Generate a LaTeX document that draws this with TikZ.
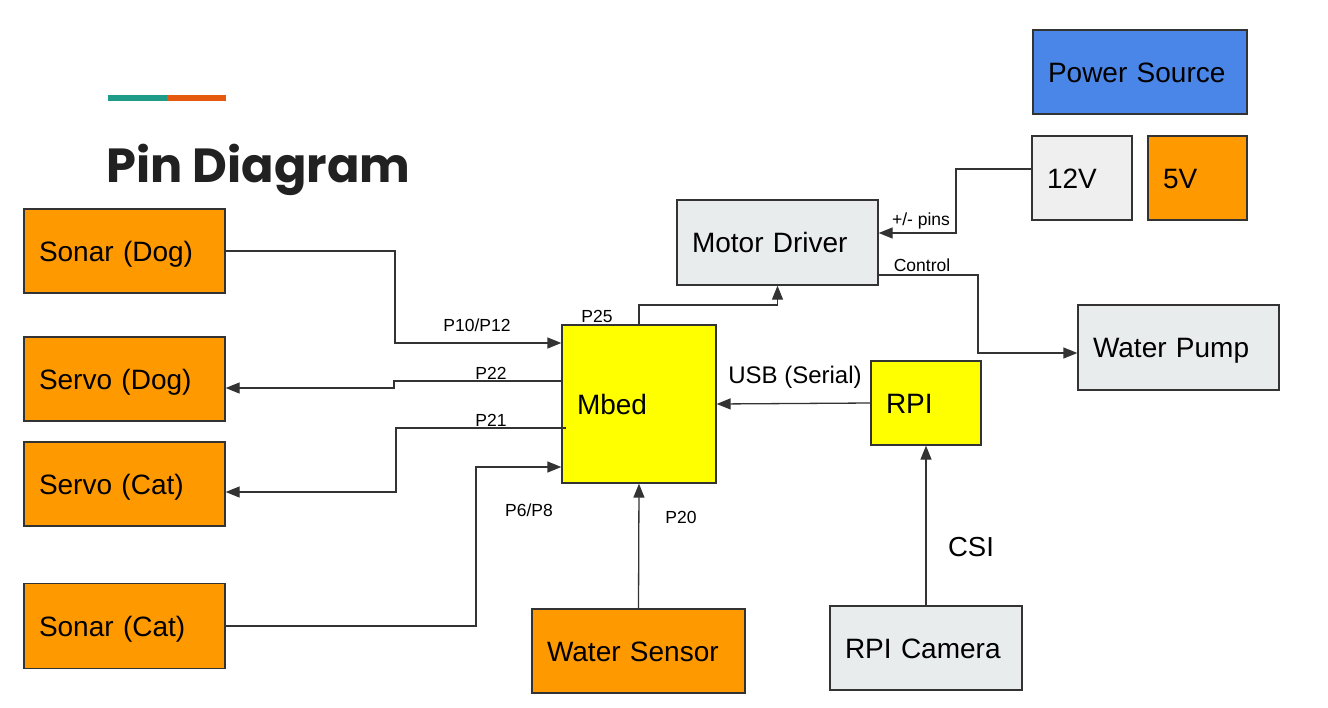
\documentclass[tikz,border=0pt]{standalone}
\usepackage{fontspec}
\setmainfont{Liberation Sans}
\newfontfamily\titlefont{Poppins}
\usetikzlibrary{arrows.meta}
\definecolor{borderc}{HTML}{333333}
\definecolor{orangec}{HTML}{FF9900}
\definecolor{yellowc}{HTML}{FFFF00}
\definecolor{grayc}{HTML}{EFEFEF}
\definecolor{graybc}{HTML}{E9ECEC}
\definecolor{bluec}{HTML}{4A86E8}
\definecolor{tealc}{HTML}{1E9C89}
\definecolor{barorange}{HTML}{E65A0F}
\definecolor{titlec}{HTML}{212121}
\tikzset{
  box/.style={draw=borderc, line width=1.3pt, rectangle, inner xsep=15pt, inner ysep=0pt,
    align=left, text height=20pt, text depth=0pt, font=\fontsize{28}{32}\selectfont},
  conn/.style={draw=borderc, line width=1.3pt, -{Triangle[length=14pt,width=11pt]}},
  small/.style={inner sep=0pt, font=\fontsize{17.5}{20}\selectfont},
  mid/.style={inner sep=0pt, font=\fontsize{24}{28}\selectfont},
}
\begin{document}
\begin{tikzpicture}[x=1pt,y=-1pt]
\useasboundingbox (0,0) rectangle (1328,707);
% title bars
\fill[tealc] (108,95) rectangle (167,101);
\fill[barorange] (167,95) rectangle (226,101);
\node[anchor=base west, inner sep=0pt, text=titlec] (title) at (106,182)
  {\resizebox{304pt}{!}{\titlefont\bfseries Pin Diagram}};
% boxes
\node[box, fill=orangec, minimum width=201pt, minimum height=84pt, text width=171pt] (sdog) at (124.5,251) {Sonar (Dog)};
\node[box, fill=orangec, minimum width=201pt, minimum height=84pt, text width=171pt] (svdog) at (124.5,379) {Servo (Dog)};
\node[box, fill=orangec, minimum width=201pt, minimum height=84pt, text width=171pt] (svcat) at (124.5,484) {Servo (Cat)};
\node[box, fill=orangec, minimum width=201pt, minimum height=85pt, text width=171pt] (scat) at (124.5,626) {Sonar (Cat)};
\node[box, fill=yellowc, minimum width=154pt, minimum height=158pt, text width=124pt] (mbed) at (639,404) {Mbed};
\node[box, fill=graybc, minimum width=201pt, minimum height=85pt, text width=171pt] (md) at (777.5,242.5) {Motor Driver};
\node[box, fill=grayc, minimum width=100pt, minimum height=84pt, text width=70pt] (v12) at (1082,178) {12V};
\node[box, fill=orangec, minimum width=99pt, minimum height=84pt, text width=69pt] (v5) at (1197.5,178) {5V};
\node[box, fill=bluec, minimum width=214pt, minimum height=84pt, text width=184pt] (ps) at (1140,72) {Power Source};
\node[box, fill=graybc, minimum width=201pt, minimum height=85pt, text width=171pt] (pump) at (1178.5,347.5) {Water Pump};
\node[box, fill=yellowc, minimum width=110pt, minimum height=84pt, text width=80pt] (rpi) at (926,403) {RPI};
\node[box, fill=orangec, minimum width=213pt, minimum height=84pt, text width=183pt] (ws) at (638.5,651) {Water Sensor};
\node[box, fill=graybc, minimum width=192pt, minimum height=84pt, text width=162pt] (cam) at (926,648) {RPI Camera};
% connectors
\draw[conn] (sdog.east) -- (395,251) -- (395,343) -- ([yshift=61pt]mbed.west);
\draw[conn] ([yshift=23pt]mbed.west) -- (394,381) -- (394,388) -- ([yshift=-9pt]svdog.east);
\draw[conn] ([xshift=5pt,yshift=-24pt]mbed.west) -- (396,428) -- (396,492) -- ([yshift=-8pt]svcat.east);
\draw[conn] (scat.east) -- (476,626) -- (476,467) -- ([yshift=-63pt]mbed.west);
\draw[conn] (ws.north) -- (mbed.south);
\draw[conn] (mbed.north) -- (639,305) -- (777.5,305) -- (md.south);
\draw[conn] ([yshift=9pt]v12.west) -- (956,169) -- (956,233) -- ([yshift=9.5pt]md.east);
\draw[conn] ([yshift=-32.5pt]md.east) -- (978,275) -- (978,353) -- ([yshift=-5.5pt]pump.west);
\draw[conn] (rpi.west) -- (mbed.east);
\draw[conn] (cam.north) -- (rpi.south);
% labels
\node[small] (l1) at (477,325) {P10/P12};
\node[small] (l2) at (491,373) {P22};
\node[small] (l3) at (491,420) {P21};
\node[small] (l4) at (529,510) {P6/P8};
\node[small] (l5) at (681,517) {P20};
\node[small] (l6) at (597,316) {P25};
\node[small] (l7) at (921,221) {+/- pins};
\node[small] (l8) at (922,265) {Control};
\node[mid] (l9) at (795,377) {USB (Serial)};
\node[inner sep=0pt, font=\fontsize{27.5}{30}\selectfont] (l10) at (971,547) {CSI};
\end{tikzpicture}
\end{document}
